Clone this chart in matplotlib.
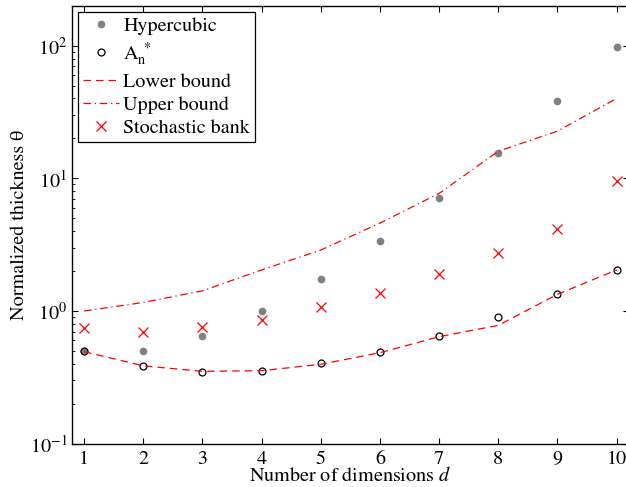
import matplotlib
matplotlib.use("Agg")
import matplotlib.pyplot as plt
from matplotlib.ticker import LogLocator, FixedLocator, NullFormatter

plt.rcParams['font.family'] = ['STIXGeneral', 'DejaVu Sans']
plt.rcParams['mathtext.fontset'] = 'stix'

dims = [1, 2, 3, 4, 5, 6, 7, 8, 9, 10]
hypercubic = [0.5, 0.5, 0.648, 1.0, 1.74, 3.37, 7.07, 15.6, 38.3, 97.8]
an_star = [0.5, 0.383, 0.347, 0.355, 0.403, 0.493, 0.644, 0.896, 1.336, 2.05]
lower_bound = [0.494, 0.386, 0.351, 0.355, 0.397, 0.485, 0.64, 0.78, 1.336, 2.04]
upper_bound = [1.0, 1.16, 1.42, 2.04, 2.88, 4.6, 7.7, 16.0, 22.7, 40.0]
stochastic = [0.744, 0.698, 0.753, 0.855, 1.072, 1.367, 1.89, 2.72, 4.17, 9.5]
xticks = dims

W, H = 626, 487
fig = plt.figure(figsize=(W / 100, H / 100), dpi=100)
l, r, t, b = 72.3, 628.5, 5.7, 443.7
ax = fig.add_axes([l / W, (H - b) / H, (r - l) / W, (b - t) / H])

ax.plot(dims, hypercubic, linestyle='none', marker='o', markersize=4.5,
        color=(0.5, 0.5, 0.5), markeredgecolor=(0.5, 0.5, 0.5), label='Hypercubic')
ax.plot(dims, an_star, linestyle='none', marker='o', markersize=5,
        markerfacecolor='none', markeredgecolor='black', markeredgewidth=0.9,
        label=r'$\mathrm{A}_\mathrm{n}^{\ *}$')
ax.plot(dims, lower_bound, linestyle=(0, (6, 4)), color='red', linewidth=0.9,
        label='Lower bound')
ax.plot(dims, upper_bound, linestyle=(0, (6, 3, 1, 3)), color='red', linewidth=0.9,
        label='Upper bound')
ax.plot(dims, stochastic, linestyle='none', marker='x', markersize=7,
        color='red', markeredgewidth=0.9, label='Stochastic bank')

ax.set_yscale('log')
ax.set_ylim(0.1, 200)
ax.set_xlim(0.8, 10.2)
ax.xaxis.set_major_locator(FixedLocator(xticks))
ax.yaxis.set_major_locator(LogLocator(base=10, numticks=10))
ax.yaxis.set_minor_locator(LogLocator(base=10, subs=range(2, 10), numticks=20))
ax.yaxis.set_minor_formatter(NullFormatter())

fs = 14.5
ax.tick_params(which='both', direction='in', top=True, right=True, labelsize=fs)
ax.tick_params(which='major', length=4.5, width=0.8)
ax.tick_params(which='minor', length=2.2, width=0.6)
ax.tick_params(axis='x', which='minor', top=False, bottom=False)
ax.tick_params(axis='x', pad=5)
for s in ax.spines.values():
    s.set_linewidth(1.0)

ax.set_xlabel(r'Number of dimensions $d$', fontsize=fs, labelpad=-1)
ax.set_ylabel('Normalized thickness θ', fontsize=fs, labelpad=1)

leg = ax.legend(loc='upper left', bbox_to_anchor=((78 - l) / (r - l), 1 - (12 - t) / (b - t)),
                borderaxespad=0, fancybox=False, edgecolor='black', fontsize=fs,
                handlelength=1.8, handletextpad=0.2, labelspacing=0.25, borderpad=0.25,
                framealpha=1)
leg.get_frame().set_linewidth(0.9)

fig.savefig('out.png', dpi=100)
